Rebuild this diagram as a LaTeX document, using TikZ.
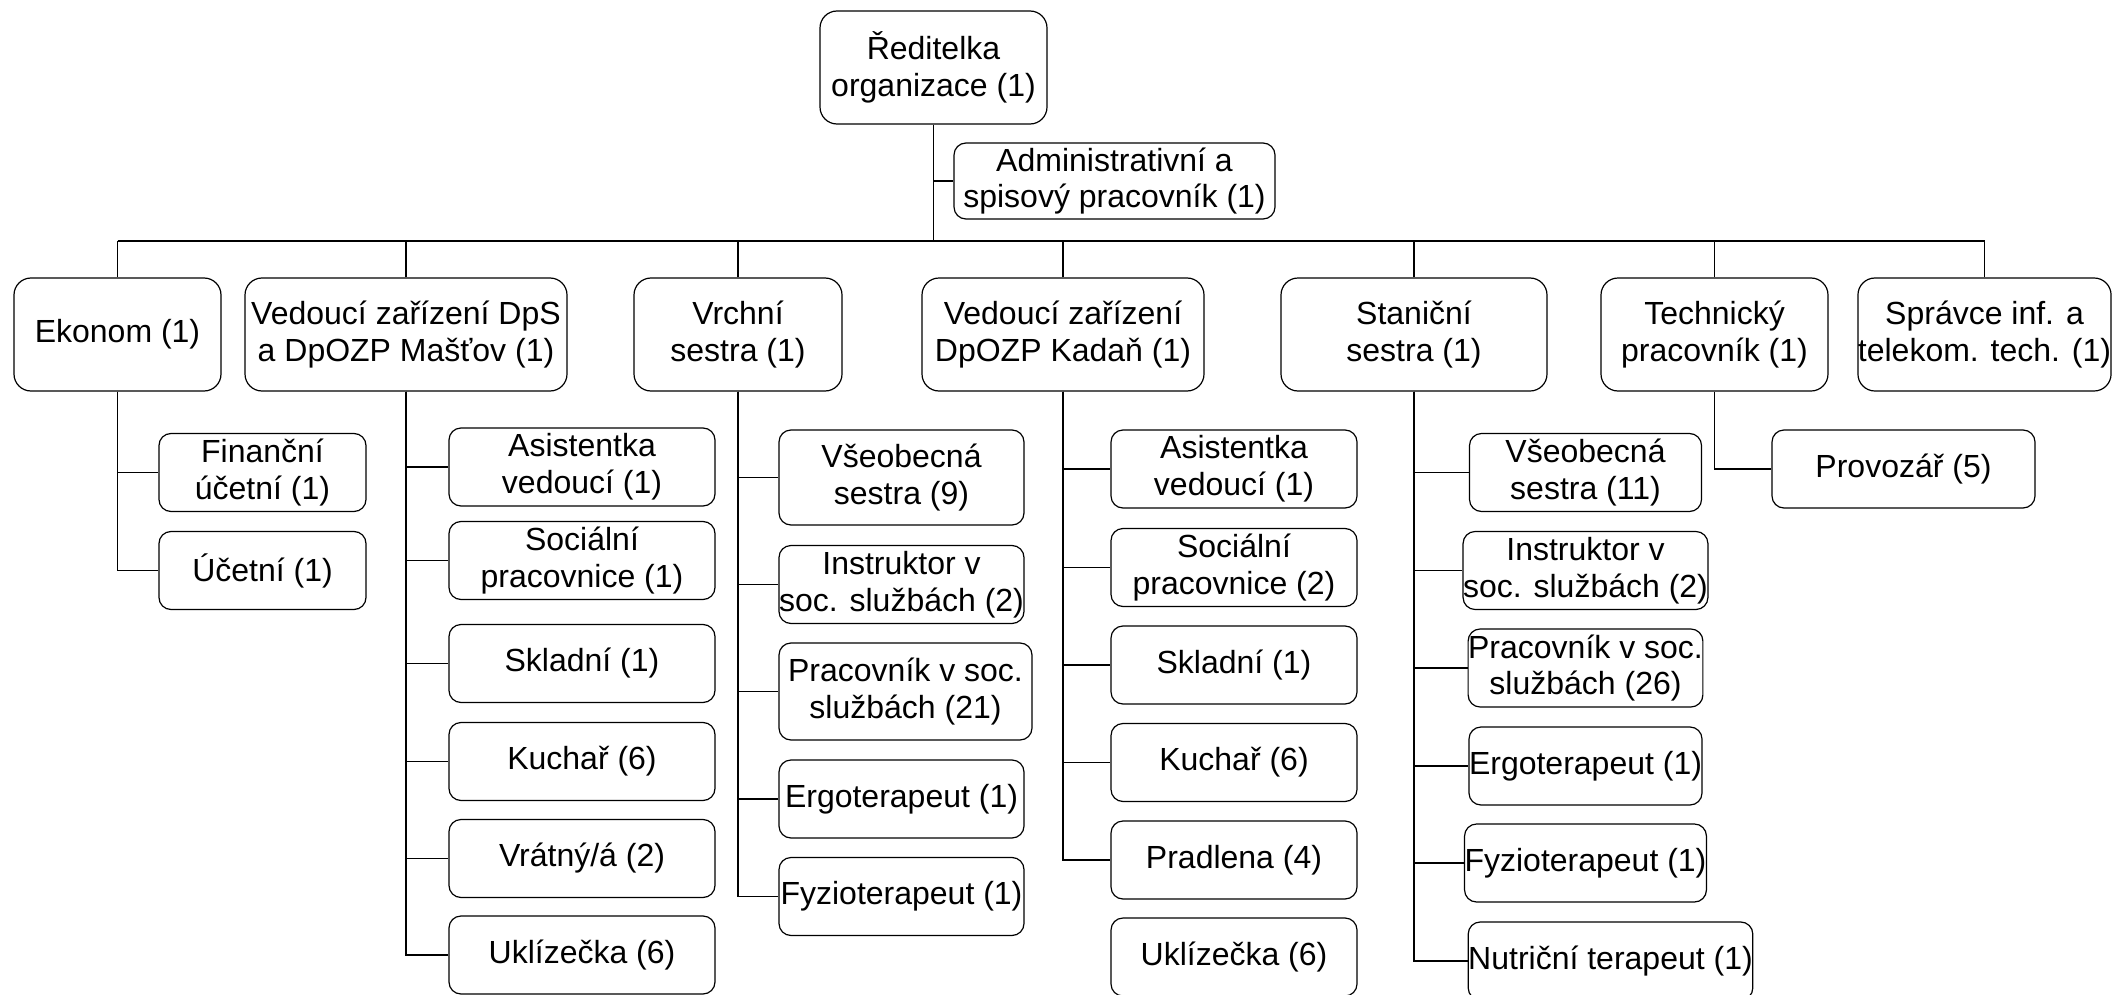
\documentclass[tikz,border=0pt]{standalone}
\usepackage{fontspec}
\setmainfont{Liberation Sans}
\usepackage{tikz}
\usetikzlibrary{positioning, calc}

\tikzset{
  unit/.style={draw, rounded corners=6pt, align=center, inner sep=0pt,
    minimum height=39pt, font=\fontsize{16}{18.4}\selectfont},
  head/.style={unit, rounded corners=8.5pt, minimum height=56.5pt}
}

\begin{document}
\begin{tikzpicture}[x=0.5pt, y=-0.5pt, line width=0.6pt]
          \useasboundingbox (0,0) rectangle (2115,995);

          % Top
          \node[head, minimum width=113.5pt] (dir) at (933.5,67.5) {Ředitelka\\organizace (1)};
          \node[unit, minimum width=160.5pt, minimum height=38pt] (admin) at (1114.5,181) {Administrativní a\\spisový pracovník (1)};
          \coordinate (bus) at (0,241);

          % Level 1
          \node[head, minimum width=103.5pt] (ekonom) at (117.5,334.5) {Ekonom (1)};
          \node[head, minimum width=161pt] (vedDps) at (406,334.5) {Vedoucí zařízení DpS\\a DpOZP Mašťov (1)};
          \node[head, minimum width=104pt] (vrchni) at (738,334.5) {Vrchní\\sestra (1)};
          \node[head, minimum width=141pt] (vedKad) at (1063,334.5) {Vedoucí zařízení\\DpOZP Kadaň (1)};
          \node[head, minimum width=133pt] (stanicni) at (1414,334.5) {Staniční\\sestra (1)};
          \node[head, minimum width=113.5pt] (tech) at (1714.5,334.5) {Technický\\pracovník (1)};
          \node[head, minimum width=126.5pt] (spravce) at (1984.5,334.5) {Správce inf. a\\telekom. tech. (1)};

          % Ekonom
          \node[unit, minimum width=103.5pt] (fin) at (262.5,472.5) {Finanční\\účetní (1)};
          \node[unit, minimum width=103.5pt] (uct) at (262.5,570.5) {Účetní (1)};

          % Vedoucí DpS
          \node[unit, minimum width=133pt] (asA) at (582,467) {Asistentka\\vedoucí (1)};
          \node[unit, minimum width=133pt] (socA) at (582,560.5) {Sociální\\pracovnice (1)};
          \node[unit, minimum width=133pt] (sklA) at (582,663.5) {Skladní (1)};
          \node[unit, minimum width=133pt] (kuchA) at (582,761.5) {Kuchař (6)};
          \node[unit, minimum width=133pt] (vrat) at (582,858.5) {Vrátný/á (2)};
          \node[unit, minimum width=133pt] (uklA) at (582,955) {Uklízečka (6)};

          % Vrchní sestra
          \node[unit, minimum width=122.5pt, minimum height=47.5pt] (vseoA) at (901.5,477.5) {Všeobecná\\sestra (9)};
          \node[unit, minimum width=122.5pt] (instrA) at (901.5,584.5) {Instruktor v\\soc. službách (2)};
          \node[unit, minimum width=126.5pt, minimum height=48.5pt] (pracA) at (905.5,691.5) {Pracovník v soc.\\službách (21)};
          \node[unit, minimum width=122.5pt] (ergoA) at (901.5,799) {Ergoterapeut (1)};
          \node[unit, minimum width=122.5pt] (fyzA) at (901.5,896.5) {Fyzioterapeut (1)};

          % Vedoucí Kadaň
          \node[unit, minimum width=123pt] (asB) at (1234,469) {Asistentka\\vedoucí (1)};
          \node[unit, minimum width=123pt] (socB) at (1234,567.5) {Sociální\\pracovnice (2)};
          \node[unit, minimum width=123pt] (sklB) at (1234,665) {Skladní (1)};
          \node[unit, minimum width=123pt] (kuchB) at (1234,762.5) {Kuchař (6)};
          \node[unit, minimum width=123pt] (prad) at (1234,860) {Pradlena (4)};
          \node[unit, minimum width=123pt] (uklB) at (1234,957) {Uklízečka (6)};

          % Staniční sestra
          \node[unit, minimum width=116pt] (vseoB) at (1585.5,472.5) {Všeobecná\\sestra (11)};
          \node[unit, minimum width=116pt] (instrB) at (1585.5,570.5) {Instruktor v\\soc. službách (2)};
          \node[unit, minimum width=116pt] (pracB) at (1585.5,668) {Pracovník v soc.\\službách (26)};
          \node[unit, minimum width=116pt] (ergoB) at (1585.5,766) {Ergoterapeut (1)};
          \node[unit, minimum width=116pt] (fyzB) at (1585.5,863) {Fyzioterapeut (1)};
          \node[unit, minimum width=141.5pt] (nutr) at (1610.5,961) {Nutriční terapeut (1)};

          % Technický
          \node[unit, minimum width=131.5pt] (prov) at (1903.5,469) {Provozář (5)};

          % Links
          \draw (dir.south) -- (dir.south |- bus);
          \draw (dir.south) |- (admin.west);
          \draw (ekonom.north |- bus) -- (spravce.north |- bus);
          \foreach \n in {ekonom, vedDps, vrchni, vedKad, stanicni, tech, spravce}
            \draw (\n.north) -- (\n.north |- bus);
          \foreach \c in {fin, uct}
            \draw (ekonom.south) |- (\c.west);
          \foreach \c in {asA, socA, sklA, kuchA, vrat, uklA}
            \draw (vedDps.south) |- (\c.west);
          \foreach \c in {vseoA, instrA, pracA, ergoA, fyzA}
            \draw (vrchni.south) |- (\c.west);
          \foreach \c in {asB, socB, sklB, kuchB, prad}
            \draw (vedKad.south) |- (\c.west);
          \foreach \c in {vseoB, instrB, pracB, ergoB, fyzB, nutr}
            \draw (stanicni.south) |- (\c.west);
          \draw (tech.south) |- (prov.west);
        \end{tikzpicture}
\end{document}
